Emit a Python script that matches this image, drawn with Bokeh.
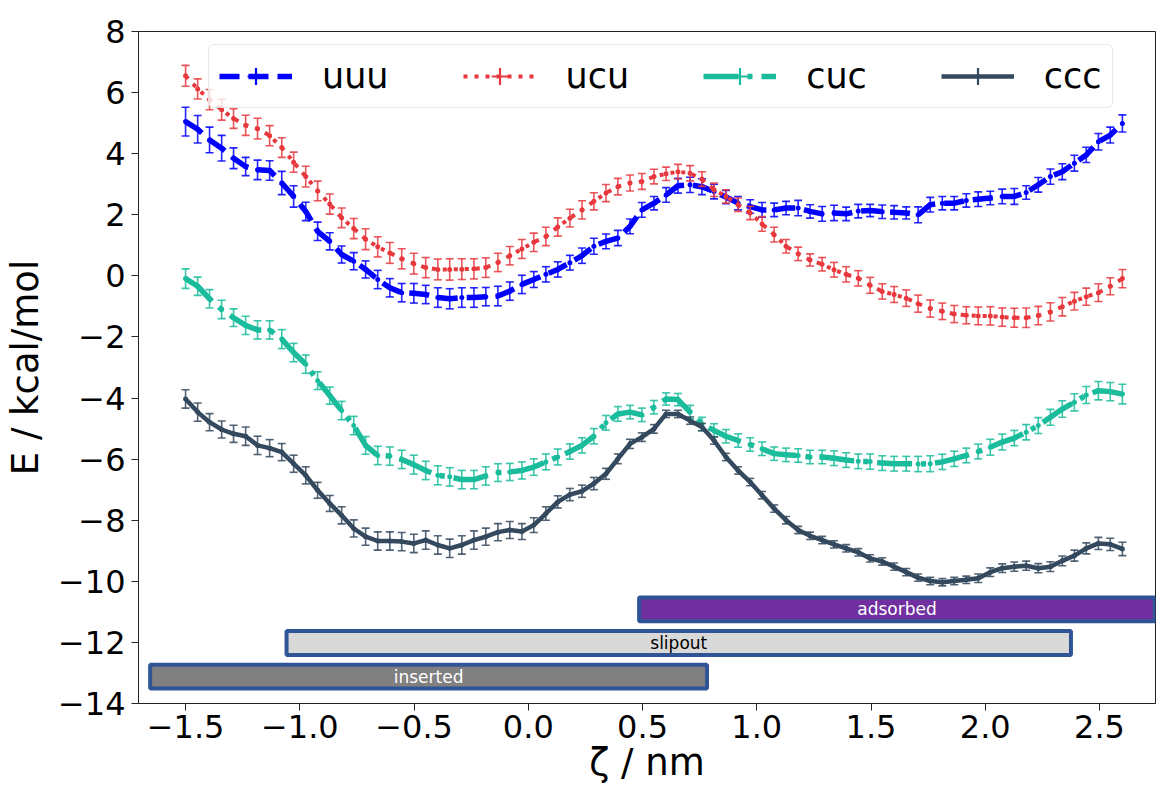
import numpy as np
from bokeh.plotting import figure
from bokeh.models import ColumnDataSource, FixedTicker, Legend, LegendItem, Range1d
from bokeh.core.properties import value
from bokeh.embed import file_html
from bokeh.resources import INLINE

# ---------------- data ----------------
ZETA = [-1.500, -1.447, -1.395, -1.342, -1.290, -1.237, -1.185, -1.132, -1.079, -1.027,
        -0.974, -0.922, -0.869, -0.817, -0.764, -0.712, -0.659, -0.606, -0.554, -0.501,
        -0.449, -0.396, -0.344, -0.291, -0.238, -0.186, -0.133, -0.081, -0.028, 0.024,
        0.077, 0.129, 0.182, 0.235, 0.287, 0.340, 0.392, 0.445, 0.497, 0.550,
        0.603, 0.655, 0.708, 0.760, 0.813, 0.865, 0.918, 0.971, 1.023, 1.076,
        1.128, 1.181, 1.233, 1.286, 1.338, 1.391, 1.444, 1.496, 1.549, 1.601,
        1.654, 1.706, 1.759, 1.812, 1.864, 1.917, 1.969, 2.022, 2.074, 2.127,
        2.179, 2.232, 2.285, 2.337, 2.390, 2.442, 2.495, 2.547, 2.600]

UUU = [5.05, 4.80, 4.45, 4.18, 3.85, 3.58, 3.47, 3.45, 3.04, 2.60,
       2.11, 1.46, 1.13, 0.70, 0.48, 0.21, -0.12, -0.39, -0.55, -0.57,
       -0.61, -0.71, -0.75, -0.71, -0.71, -0.68, -0.66, -0.50, -0.28, -0.12,
       0.05, 0.21, 0.43, 0.66, 0.97, 1.13, 1.24, 1.62, 2.16, 2.38,
       2.65, 2.95, 2.98, 2.92, 2.76, 2.58, 2.38, 2.27, 2.16, 2.16,
       2.22, 2.22, 2.11, 2.03, 2.06, 2.03, 2.12, 2.14, 2.10, 2.08,
       2.06, 2.00, 2.33, 2.38, 2.38, 2.47, 2.51, 2.55, 2.60, 2.60,
       2.73, 2.98, 3.25, 3.41, 3.69, 3.96, 4.39, 4.61, 4.99]
UUU_ERR = [0.47, 0.45, 0.42, 0.42, 0.34, 0.30, 0.32, 0.32, 0.38, 0.35,
           0.30, 0.30, 0.28, 0.28, 0.28, 0.28, 0.30, 0.30, 0.30, 0.32,
           0.30, 0.32, 0.33, 0.32, 0.32, 0.30, 0.32, 0.30, 0.30, 0.26,
           0.25, 0.25, 0.24, 0.25, 0.26, 0.24, 0.25, 0.24, 0.24, 0.22,
           0.24, 0.24, 0.25, 0.26, 0.24, 0.22, 0.22, 0.22, 0.24, 0.22,
           0.22, 0.25, 0.22, 0.24, 0.25, 0.22, 0.22, 0.20, 0.22, 0.22,
           0.20, 0.26, 0.24, 0.22, 0.22, 0.22, 0.24, 0.22, 0.24, 0.26,
           0.22, 0.24, 0.25, 0.26, 0.26, 0.25, 0.27, 0.26, 0.28]

UCU = [6.55, 6.12, 5.77, 5.44, 5.15, 4.93, 4.82, 4.59, 4.20, 3.72,
       3.25, 2.78, 2.35, 1.90, 1.55, 1.20, 0.95, 0.75, 0.56, 0.40,
       0.27, 0.21, 0.21, 0.22, 0.23, 0.27, 0.44, 0.66, 0.88, 1.10,
       1.29, 1.60, 1.89, 2.16, 2.44, 2.71, 2.92, 3.04, 3.09, 3.25,
       3.34, 3.41, 3.36, 3.17, 2.82, 2.60, 2.33, 2.06, 1.70, 1.35,
       0.97, 0.72, 0.52, 0.38, 0.20, 0.05, -0.08, -0.31, -0.51, -0.61,
       -0.73, -0.91, -1.07, -1.16, -1.25, -1.29, -1.31, -1.31, -1.35, -1.37,
       -1.37, -1.30, -1.18, -1.01, -0.83, -0.68, -0.55, -0.34, -0.09]
UCU_ERR = [0.34, 0.33, 0.33, 0.34, 0.32, 0.33, 0.34, 0.33, 0.32, 0.33,
           0.34, 0.32, 0.33, 0.32, 0.33, 0.34, 0.33, 0.34, 0.33, 0.34,
           0.33, 0.34, 0.35, 0.34, 0.33, 0.32, 0.30, 0.30, 0.31, 0.30,
           0.30, 0.30, 0.29, 0.30, 0.28, 0.28, 0.27, 0.26, 0.26, 0.24,
           0.22, 0.24, 0.25, 0.24, 0.22, 0.22, 0.22, 0.22, 0.24, 0.24,
           0.22, 0.22, 0.20, 0.22, 0.24, 0.25, 0.25, 0.26, 0.25, 0.26,
           0.27, 0.28, 0.28, 0.27, 0.28, 0.28, 0.29, 0.30, 0.30, 0.31,
           0.32, 0.30, 0.30, 0.30, 0.29, 0.28, 0.29, 0.28, 0.30]

CUC = [-0.09, -0.34, -0.75, -1.10, -1.37, -1.62, -1.77, -1.77, -2.07, -2.51,
       -2.89, -3.43, -3.92, -4.41, -4.90, -5.55, -5.88, -5.90, -6.01, -6.18,
       -6.37, -6.53, -6.58, -6.67, -6.67, -6.55, -6.44, -6.42, -6.37, -6.26,
       -6.09, -5.93, -5.75, -5.55, -5.25, -4.81, -4.52, -4.46, -4.55, -4.30,
       -4.03, -4.05, -4.46, -4.85, -5.06, -5.25, -5.39, -5.52, -5.66, -5.82,
       -5.86, -5.88, -5.93, -5.93, -5.97, -6.03, -6.07, -6.08, -6.13, -6.15,
       -6.15, -6.16, -6.15, -6.09, -5.99, -5.88, -5.75, -5.61, -5.44, -5.31,
       -5.12, -4.90, -4.63, -4.36, -4.14, -3.90, -3.76, -3.79, -3.87]
CUC_ERR = [0.32, 0.30, 0.30, 0.30, 0.29, 0.30, 0.30, 0.30, 0.31, 0.30,
           0.30, 0.29, 0.28, 0.30, 0.30, 0.29, 0.30, 0.30, 0.30, 0.31,
           0.30, 0.31, 0.30, 0.30, 0.30, 0.30, 0.29, 0.28, 0.28, 0.27,
           0.26, 0.26, 0.25, 0.25, 0.25, 0.24, 0.24, 0.22, 0.22, 0.22,
           0.20, 0.20, 0.22, 0.22, 0.22, 0.22, 0.22, 0.22, 0.22, 0.22,
           0.22, 0.22, 0.22, 0.22, 0.24, 0.24, 0.24, 0.25, 0.24, 0.24,
           0.24, 0.25, 0.26, 0.25, 0.25, 0.24, 0.24, 0.26, 0.26, 0.25,
           0.25, 0.26, 0.26, 0.27, 0.28, 0.28, 0.30, 0.30, 0.32]

CCC = [-4.03, -4.46, -4.79, -5.03, -5.17, -5.25, -5.55, -5.64, -5.77, -6.15,
       -6.53, -7.02, -7.45, -7.84, -8.27, -8.54, -8.68, -8.68, -8.70, -8.76,
       -8.65, -8.81, -8.92, -8.81, -8.65, -8.54, -8.39, -8.32, -8.37, -8.16,
       -7.78, -7.40, -7.16, -7.05, -6.80, -6.48, -5.99, -5.50, -5.28, -5.01,
       -4.52, -4.52, -4.74, -4.95, -5.39, -5.93, -6.37, -6.75, -7.18, -7.62,
       -8.00, -8.32, -8.51, -8.65, -8.79, -8.92, -9.05, -9.25, -9.35, -9.52,
       -9.70, -9.88, -9.99, -10.03, -9.99, -9.95, -9.90, -9.70, -9.57, -9.52,
       -9.49, -9.57, -9.52, -9.33, -9.16, -8.92, -8.76, -8.79, -8.94]
CCC_ERR = [0.30, 0.30, 0.28, 0.28, 0.28, 0.30, 0.30, 0.28, 0.28, 0.28,
           0.28, 0.26, 0.26, 0.28, 0.28, 0.28, 0.30, 0.30, 0.30, 0.30,
           0.30, 0.30, 0.30, 0.30, 0.30, 0.28, 0.28, 0.28, 0.26, 0.24,
           0.22, 0.20, 0.20, 0.20, 0.20, 0.18, 0.16, 0.15, 0.14, 0.14,
           0.12, 0.12, 0.12, 0.12, 0.12, 0.12, 0.12, 0.12, 0.12, 0.12,
           0.12, 0.12, 0.12, 0.12, 0.12, 0.12, 0.12, 0.12, 0.12, 0.12,
           0.12, 0.12, 0.12, 0.12, 0.12, 0.12, 0.14, 0.14, 0.14, 0.15,
           0.15, 0.15, 0.16, 0.16, 0.18, 0.18, 0.20, 0.20, 0.22]

SERIES = ["uuu", "ucu", "cuc", "ccc"]
SERIES_Y = [UUU, UCU, CUC, CCC]
SERIES_ERR = [UUU_ERR, UCU_ERR, CUC_ERR, CCC_ERR]
COLORS = ["#0000ff", "#e8383d", "#1abc9c", "#34495e"]
DASHES = ["20 9", "4 7", "35 9 5 9", "solid"]
WIDTHS = [5.5, 4, 5.5, 4.5]

STATE_NAMES = ["adsorbed", "slipout", "inserted"]
STATE_Y = [-10.92, -12.02, -13.12]
STATE_LEFT = [0.485, -1.058, -1.655]
STATE_RIGHT = [2.742, 2.375, 0.782]
STATE_FILL = ["#7030a0", "#d9d9d9", "#808080"]
STATE_TEXT = ["#ffffff", "#000000", "#ffffff"]

X_TICKS = [-1.5, -1.0, -0.5, 0.0, 0.5, 1.0, 1.5, 2.0, 2.5]
X_LABELS = ["\u22121.5", "\u22121.0", "\u22120.5", "0.0", "0.5", "1.0", "1.5", "2.0", "2.5"]
Y_TICKS = [-14, -12, -10, -8, -6, -4, -2, 0, 2, 4, 6, 8]
Y_LABELS = ["\u221214", "\u221212", "\u221210", "\u22128", "\u22126", "\u22124", "\u22122",
            "0", "2", "4", "6", "8"]

FONT = "DejaVu Sans"

# ---------------- figure ----------------
p = figure(width=1157, height=786, output_backend="svg", toolbar_location=None,
           x_range=Range1d(-1.706, 2.745), y_range=Range1d(-14, 8),
           min_border_left=130, min_border_right=2, min_border_top=31,
           min_border_bottom=80)
p.xgrid.visible = False
p.ygrid.visible = False
p.outline_line_color = "#222222"
p.outline_line_width = 1
p.background_fill_color = "white"
p.border_fill_color = "white"

legend_items = []
for name, ys, errs, col, dash, lw in zip(SERIES, SERIES_Y, SERIES_ERR, COLORS, DASHES, WIDTHS):
    lo = [y - e for y, e in zip(ys, errs)]
    hi = [y + e for y, e in zip(ys, errs)]
    src = ColumnDataSource(dict(x=ZETA, y=ys, lo=lo, hi=hi))
    line = p.line("x", "y", source=src, line_color=col, line_width=lw, line_dash=dash)
    p.scatter("x", "y", source=src, marker="circle", size=5, fill_color=col, line_color=None)
    p.segment(x0="x", y0="lo", x1="x", y1="hi", source=src, line_color=col,
              line_width=1.6, line_alpha=0.85)
    p.scatter("x", "lo", source=src, marker="dash", size=8, line_color=col,
              line_width=1.6, line_alpha=0.85)
    p.scatter("x", "hi", source=src, marker="dash", size=8, line_color=col,
              line_width=1.6, line_alpha=0.85)
    # zero-size markers: invisible in the plot, but give the legend its error-bar symbol
    vbar = p.scatter("x", "y", source=src, marker="cross", size=0,
                     line_color=col, line_width=2.2)
    legend_items.append(LegendItem(label=name, renderers=[line, vbar]))

# state bars
centers = [(l + r) / 2 for l, r in zip(STATE_LEFT, STATE_RIGHT)]
ssrc = ColumnDataSource(dict(y=STATE_Y, left=STATE_LEFT, right=STATE_RIGHT,
                             fill=STATE_FILL, name=STATE_NAMES, cx=centers, tc=STATE_TEXT))
p.hbar(y="y", left="left", right="right", height=0.78, source=ssrc,
       fill_color="fill", line_color="#2f5597", line_width=4)
p.text(x="cx", y="y", text="name", source=ssrc, text_color="tc",
       text_align="center", text_baseline="middle", text_font_size="17px",
       text_font=value(FONT))

# axes
p.xaxis.ticker = FixedTicker(ticks=X_TICKS)
p.xaxis.major_label_overrides = {t: l for t, l in zip(X_TICKS, X_LABELS)}
p.yaxis.ticker = FixedTicker(ticks=Y_TICKS)
p.yaxis.major_label_overrides = {t: l for t, l in zip(Y_TICKS, Y_LABELS)}
for ax in (p.xaxis[0], p.yaxis[0]):
    ax.major_label_text_font = FONT
    ax.major_label_text_font_size = "32px"
    ax.major_label_text_color = "black"
    ax.axis_label_text_font = FONT
    ax.axis_label_text_font_size = "37px"
    ax.axis_label_text_font_style = "normal"
    ax.axis_label_text_color = "black"
    ax.major_tick_out = 7
    ax.major_tick_in = 0
    ax.minor_tick_out = 0
    ax.minor_tick_in = 0
    ax.axis_line_color = "#222222"
    ax.major_tick_line_color = "#222222"
p.xaxis.axis_label = "\u03b6 / nm"
p.yaxis.axis_label = "E / kcal/mol"
p.xaxis.major_label_standoff = 4
p.yaxis.major_label_standoff = 6
p.xaxis.axis_label_standoff = 0
p.yaxis.axis_label_standoff = 8

legend = Legend(items=legend_items, orientation="horizontal", location=(70, 595),
                glyph_width=73, glyph_height=42, label_height=42,
                label_text_font=FONT, label_text_font_size="35px",
                label_text_color="black",
                label_standoff=30, spacing=74, padding=10, margin=0,
                border_line_color="#d0d0d0", border_line_width=1.5,
                background_fill_color="white", background_fill_alpha=0.8)
try:
    legend.border_radius = 6
except Exception:
    pass
p.add_layout(legend)

open("out.html", "w").write(file_html(p, INLINE))
